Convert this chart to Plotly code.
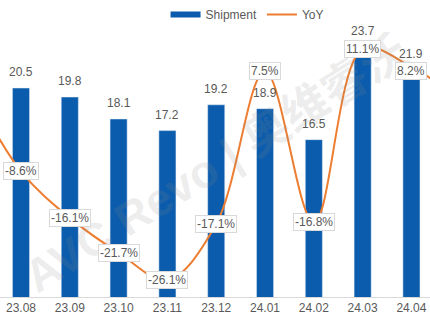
import plotly.graph_objects as go

# ---- data ----
months = ["23.07", "23.08", "23.09", "23.10", "23.11", "23.12", "24.01", "24.02", "24.03", "24.04", "24.05"]
shipment = [None, 20.5, 19.8, 18.1, 17.2, 19.2, 18.9, 16.5, 23.7, 21.9, None]
yoy = [4.5, -8.6, -16.1, -21.7, -26.1, -17.1, 7.5, -16.8, 11.1, 8.2, 3.0]
visible_idx = list(range(1, 10))

BLUE = "#0B5CAD"
ORANGE = "#ED7D31"
GREY = "#595959"
FONT = "Liberation Sans, Arial, sans-serif"

fig = go.Figure()

fig.add_trace(go.Bar(
    x=months, y=shipment, name="Shipment", marker_color=BLUE,
    showlegend=False,
))

# legend proxy for bar (wide swatch)
fig.add_trace(go.Scatter(
    x=[None], y=[None], mode="lines", name="Shipment",
    line=dict(color=BLUE, width=6),
))

fig.add_trace(go.Scatter(
    x=months, y=yoy, name="YoY", mode="lines", yaxis="y2",
    line=dict(color=ORANGE, width=2, shape="spline", smoothing=1.0),
))

# watermark
fig.add_annotation(
    x=0.5, y=0.5, xref="paper", yref="paper",
    text="<b>AVC Revo | 奥维睿沃</b>", showarrow=False, textangle=-32,
    font=dict(color="rgba(140,140,140,0.16)", size=46, family="Liberation Sans, Noto Sans CJK SC"),
)

# bar value labels
for i in visible_idx:
    fig.add_annotation(
        x=i, y=shipment[i], xref="x", yref="y",
        text="%.1f" % shipment[i], showarrow=False,
        yanchor="bottom", yshift=7,
        font=dict(color=GREY, size=12, family=FONT),
    )

# YoY labels
for i in visible_idx:
    fig.add_annotation(
        x=i, y=yoy[i], xref="x", yref="y2",
        text="%.1f%%" % yoy[i], showarrow=False,
        yshift=(-4 if i == 9 else 0),
        font=dict(color=GREY, size=12, family=FONT),
        bgcolor="white", bordercolor="#D9D9D9", borderwidth=1, borderpad=1,
    )

fig.update_layout(
    width=430, height=325,
    margin=dict(l=0, r=0, t=30, b=28),
    paper_bgcolor="white", plot_bgcolor="white",
    bargap=0.65,
    font=dict(family=FONT, color=GREY, size=12),
    legend=dict(orientation="h", x=0.385, xanchor="left", y=1.06, yanchor="middle",
                font=dict(size=12, color=GREY, family=FONT), itemwidth=30,
                bgcolor="rgba(0,0,0,0)"),
    xaxis=dict(type="category", range=[0.57, 9.38], showgrid=False,
               showline=True, linecolor="#D9D9D9", linewidth=1, ticks="",
               tickfont=dict(size=12, color=GREY, family=FONT)),
    yaxis=dict(range=[4.3, 25.0], visible=False, showgrid=False),
    yaxis2=dict(range=[-28.84, 14.15], overlaying="y", side="right",
                visible=False, showgrid=False),
)

fig.write_html("out.html")
